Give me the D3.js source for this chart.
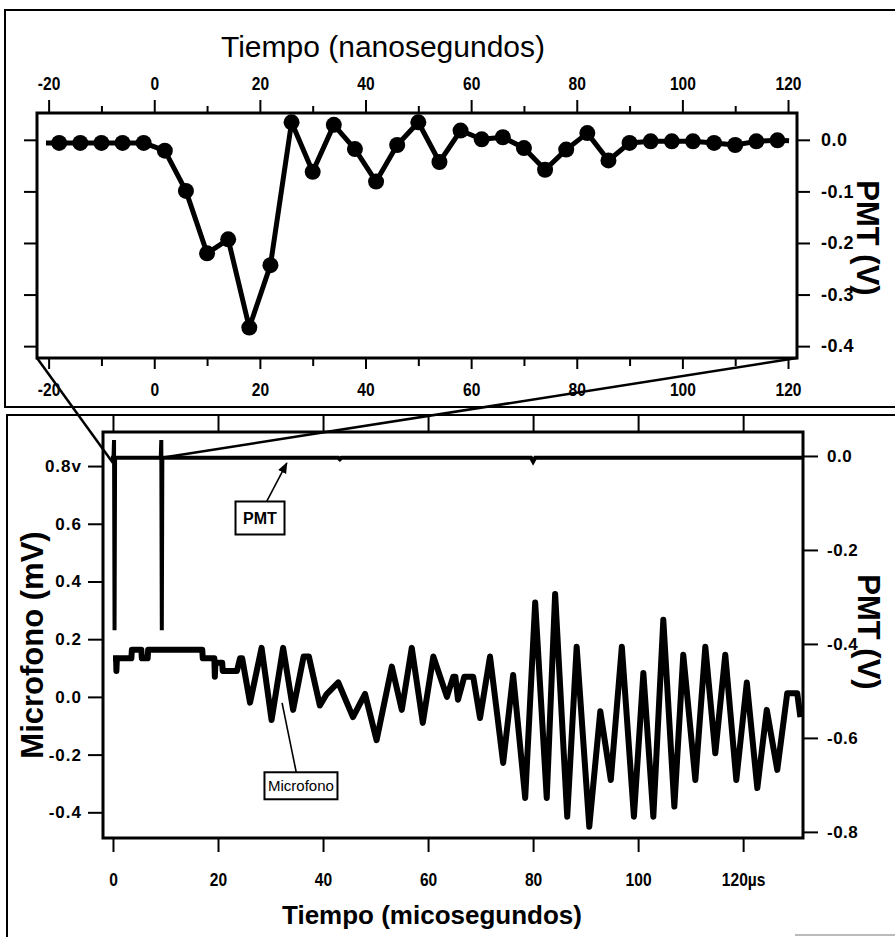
<!DOCTYPE html>
<html>
<head>
<meta charset="utf-8">
<script src="https://cdn.jsdelivr.net/npm/d3@7"></script>
<style>
  body { margin: 0; background: #fff; }
  svg { display: block; }
  .tick text { fill: #000; }
</style>
</head>
<body>
<div id="chart"></div>
<script>
// top panel: PMT pulse, nanoseconds
const nsTime = [-18, -14, -10, -6, -2, 2, 6, 10, 14, 18, 22, 26, 30, 34, 38, 42, 46, 50, 54,
  58, 62, 66, 70, 74, 78, 82, 86, 90, 94, 98, 102, 106, 110, 114, 118];
const nsPMT = [-0.006, -0.006, -0.006, -0.006, -0.006, -0.021, -0.099, -0.220, -0.193, -0.364,
  -0.243, 0.034, -0.062, 0.029, -0.018, -0.081, -0.010, 0.034, -0.043, 0.018, 0.001, 0.005,
  -0.016, -0.058, -0.019, 0.013, -0.040, -0.006, -0.003, -0.003, -0.003, -0.006, -0.010,
  -0.003, -0.001];
// line runs a bit past the first and last marker
const nsEdgeTime = [-20.5, 120.2];
const nsEdgePMT = [-0.006, -0.002];

const nsTicksMajor = [-20, 0, 20, 40, 60, 80, 100, 120];
const nsTicksMinor = [-10, 10, 30, 50, 70, 90, 110];
const nsPMTTicks = [0.0, -0.1, -0.2, -0.3, -0.4];

// bottom panel: microphone + PMT, microseconds
const micTime = [0.0, 0.6, 0.65, 0.75, 3.5, 3.6, 5.4, 5.5, 6.6, 6.7, 17.0, 17.1, 19.3, 19.4,
  19.5, 20.8, 20.9, 23.6, 24.2, 24.6, 26.1, 28.3, 30.2, 32.4, 34.3, 36.3, 37.3, 39.4, 40.7,
  42.9, 45.7, 48.0, 50.2, 53.1, 55.0, 56.9, 59.0, 61.0, 63.6, 64.8, 65.2, 65.7, 66.9, 68.6,
  69.9, 71.8, 74.3, 76.2, 78.5, 80.4, 82.6, 84.2, 86.5, 88.3, 90.7, 92.8, 94.8, 96.9, 99.2,
  101.0, 102.9, 104.8, 106.9, 108.6, 110.9, 112.8, 114.7, 116.6, 118.7, 120.7, 122.7, 124.5,
  126.5, 128.4, 130.3, 130.9];
const micMV = [0.134, 0.134, 0.09, 0.134, 0.134, 0.163, 0.163, 0.134, 0.134, 0.163, 0.163,
  0.134, 0.134, 0.07, 0.118, 0.118, 0.09, 0.09, 0.134, 0.134, -0.02, 0.17, -0.08, 0.17,
  -0.045, 0.14, 0.14, -0.03, 0.01, 0.05, -0.07, 0.01, -0.15, 0.105, -0.045, 0.17, -0.09,
  0.14, 0.0, 0.07, 0.07, -0.01, 0.07, 0.07, -0.073, 0.14, -0.229, 0.076, -0.35, 0.327,
  -0.35, 0.357, -0.415, 0.174, -0.45, -0.05, -0.288, 0.174, -0.415, 0.083, -0.415, 0.267,
  -0.38, 0.146, -0.288, 0.174, -0.195, 0.146, -0.288, 0.05, -0.316, -0.045, -0.253, 0.013,
  0.013, -0.07];

const pmtTime = [-0.4, 0.1, 0.2, 0.3, 0.4, 9.1, 9.2, 9.3, 9.4, 42.9, 43.2, 43.5, 79.6, 80.0,
  80.4, 131.2];
const pmtV = [-0.004, -0.004, 0.034, -0.371, -0.004, -0.004, 0.034, -0.371, -0.004, -0.004,
  -0.007, -0.004, -0.004, -0.012, -0.004, -0.004];

const usTicks = [0, 20, 40, 60, 80, 100, 120];
const micTicks = [0.8, 0.6, 0.4, 0.2, 0.0, -0.2, -0.4];
const pmtTicks = [0.0, -0.2, -0.4, -0.6, -0.8];

const W = 895, H = 937;
const sans = "'Liberation Sans', Arial, sans-serif";

const svg = d3.select("#chart").append("svg")
  .attr("width", W).attr("height", H);
svg.append("rect").attr("width", W).attr("height", H).attr("fill", "#fff");

// outer panel boxes (run off the right edge)
svg.append("rect").attr("x", 5).attr("y", 10).attr("width", 950).attr("height", 397)
  .attr("fill", "none").attr("stroke", "#000").attr("stroke-width", 2);
svg.append("rect").attr("x", 7).attr("y", 415).attr("width", 950).attr("height", 600)
  .attr("fill", "none").attr("stroke", "#000").attr("stroke-width", 2);
svg.append("line").attr("x1", 795).attr("x2", 895).attr("y1", 935).attr("y2", 935)
  .attr("stroke", "#bbb").attr("stroke-width", 2);

// ---------- top panel ----------
const upper = {left: 37, right: 797, top: 113, bottom: 358};
const xNs = d3.scaleLinear().domain([-22.2, 121.7]).range([upper.left, upper.right]);
const yNs = d3.scaleLinear().domain([0.052, -0.423]).range([upper.top, upper.bottom]);

// strip the domain, thicken ticks, bold labels; squeeze = horizontal squash of the glyphs
function styleAxis(g, size, squeeze, spacing) {
  g.select(".domain").remove();
  g.selectAll(".tick line").attr("stroke", "#000").attr("stroke-width", 2);
  const t = g.selectAll(".tick text").style("font-family", sans)
    .style("font-size", size + "px").style("font-weight", "bold");
  if (squeeze) t.attr("transform", `scale(${squeeze},1)`);
  if (spacing) t.style("letter-spacing", spacing + "px");
}

const gTopAxis = svg.append("g").attr("transform", `translate(0,${upper.top})`)
  .call(d3.axisTop(xNs).tickValues(nsTicksMajor).tickSize(13).tickPadding(10)
    .tickFormat(d => String(d)));
styleAxis(gTopAxis, 19, 0.82);
const gTopMinor = svg.append("g").attr("transform", `translate(0,${upper.top})`)
  .call(d3.axisTop(xNs).tickValues(nsTicksMinor).tickSize(7).tickFormat(""));
styleAxis(gTopMinor, 19);

const gBotAxis = svg.append("g").attr("transform", `translate(0,${upper.bottom})`)
  .call(d3.axisBottom(xNs).tickValues(nsTicksMajor).tickSize(11).tickPadding(14)
    .tickFormat(d => String(d)));
styleAxis(gBotAxis, 19, 0.82);
const gBotMinor = svg.append("g").attr("transform", `translate(0,${upper.bottom})`)
  .call(d3.axisBottom(xNs).tickValues(nsTicksMinor).tickSize(8).tickFormat(""));
styleAxis(gBotMinor, 19);

const gNsRight = svg.append("g").attr("transform", `translate(${upper.right},0)`)
  .call(d3.axisRight(yNs).tickValues(nsPMTTicks).tickSize(13).tickPadding(11)
    .tickFormat(d => d.toFixed(1)));
styleAxis(gNsRight, 18, 0, 0.5);
const gNsLeft = svg.append("g").attr("transform", `translate(${upper.left},0)`)
  .call(d3.axisLeft(yNs).tickValues(nsPMTTicks).tickSize(13).tickFormat(""));
styleAxis(gNsLeft, 18);

svg.append("rect").attr("x", upper.left).attr("y", upper.top)
  .attr("width", upper.right - upper.left).attr("height", upper.bottom - upper.top)
  .attr("fill", "none").attr("stroke", "#000").attr("stroke-width", 3);

svg.append("text").attr("x", 383).attr("y", 57).attr("text-anchor", "middle")
  .style("font-family", sans).style("font-size", "30px").text("Tiempo (nanosegundos)");
svg.append("text").attr("transform", "translate(857,238) rotate(90)")
  .attr("text-anchor", "middle").style("font-family", sans).style("font-size", "31px")
  .style("font-weight", "bold").text("PMT (V)");

const nsPts = nsTime.map((t, i) => [t, nsPMT[i]]);
const nsLinePts = [[nsEdgeTime[0], nsEdgePMT[0]]].concat(nsPts, [[nsEdgeTime[1], nsEdgePMT[1]]]);
svg.append("path").datum(nsLinePts)
  .attr("d", d3.line().x(d => xNs(d[0])).y(d => yNs(d[1])))
  .attr("fill", "none").attr("stroke", "#000").attr("stroke-width", 5)
  .attr("stroke-linejoin", "round");
svg.append("g").selectAll("circle").data(nsPts).enter().append("circle")
  .attr("cx", d => xNs(d[0])).attr("cy", d => yNs(d[1])).attr("r", 8).attr("fill", "#000");

// ---------- bottom panel ----------
const lower = {left: 103, right: 803, top: 432, bottom: 838};
const xUs = d3.scaleLinear().domain([-1.9, 131.4]).range([lower.left, lower.right]);
const yMic = d3.scaleLinear().domain([0.918, -0.489]).range([lower.top, lower.bottom]);
const yPmt = d3.scaleLinear().domain([0.051, -0.813]).range([lower.top, lower.bottom]);

const gUs = svg.append("g").attr("transform", `translate(0,${lower.bottom})`)
  .call(d3.axisBottom(xUs).tickValues(usTicks).tickSize(14).tickPadding(21)
    .tickFormat(d => d === 120 ? "120µs" : String(d)));
styleAxis(gUs, 19, 0.82);
const gUsTop = svg.append("g").attr("transform", `translate(0,${lower.top})`)
  .call(d3.axisTop(xUs).tickValues(usTicks).tickSize(17).tickFormat(""));
styleAxis(gUsTop, 19);

const gMic = svg.append("g").attr("transform", `translate(${lower.left},0)`)
  .call(d3.axisLeft(yMic).tickValues(micTicks).tickSize(15).tickPadding(6)
    .tickFormat(d => d === 0.8 ? "0.8v" : d.toFixed(1)));
styleAxis(gMic, 17, 0, 1);

const gPmt = svg.append("g").attr("transform", `translate(${lower.right},0)`)
  .call(d3.axisRight(yPmt).tickValues(pmtTicks).tickSize(15).tickPadding(9)
    .tickFormat(d => d.toFixed(1)));
styleAxis(gPmt, 17, 0, 0.5);

svg.append("rect").attr("x", lower.left).attr("y", lower.top)
  .attr("width", lower.right - lower.left).attr("height", lower.bottom - lower.top)
  .attr("fill", "none").attr("stroke", "#000").attr("stroke-width", 3);

svg.append("text").attr("transform", "translate(43,645) rotate(-90)")
  .attr("text-anchor", "middle").style("font-family", sans).style("font-size", "31px")
  .style("font-weight", "bold").text("Microfono (mV)");
svg.append("text").attr("transform", "translate(858,632) rotate(90)")
  .attr("text-anchor", "middle").style("font-family", sans).style("font-size", "31px")
  .style("font-weight", "bold").text("PMT (V)");
svg.append("text").attr("x", 432).attr("y", 924).attr("text-anchor", "middle")
  .style("font-family", sans).style("font-size", "26px").style("font-weight", "bold")
  .text("Tiempo (micosegundos)");

svg.append("path").datum(pmtTime.map((t, i) => [t, pmtV[i]]))
  .attr("d", d3.line().x(d => xUs(d[0])).y(d => yPmt(d[1])))
  .attr("fill", "none").attr("stroke", "#000").attr("stroke-width", 4);

svg.append("path").datum(micTime.map((t, i) => [t, micMV[i]]))
  .attr("d", d3.line().x(d => xUs(d[0])).y(d => yMic(d[1])))
  .attr("fill", "none").attr("stroke", "#000").attr("stroke-width", 6)
  .attr("stroke-linejoin", "round");

// labels with pointers
svg.append("defs").append("marker").attr("id", "head")
  .attr("viewBox", "0 0 10 10").attr("refX", 9).attr("refY", 5)
  .attr("markerWidth", 7).attr("markerHeight", 7).attr("orient", "auto")
  .append("path").attr("d", "M0,1L10,5L0,9Z").attr("fill", "#000");

function callout(label, cx, cy, w, h, tipX, tipY, bold, size, arrow) {
  const x0 = cx - w / 2, y0 = cy - h / 2;
  svg.append("line").attr("x1", cx + (tipX - cx) * 0.25).attr("y1", y0)
    .attr("x2", tipX).attr("y2", tipY).attr("stroke", "#000").attr("stroke-width", 1.6)
    .attr("marker-end", arrow ? "url(#head)" : null);
  svg.append("rect").attr("x", x0).attr("y", y0).attr("width", w).attr("height", h)
    .attr("fill", "#fff").attr("stroke", "#000").attr("stroke-width", 2);
  svg.append("text").attr("x", cx).attr("y", cy + size * 0.36).attr("text-anchor", "middle")
    .style("font-family", sans).style("font-size", size + "px")
    .style("font-weight", bold ? "bold" : "normal").text(label);
}
callout("PMT", xUs(28), yPmt(-0.132), 49, 33, xUs(33.1), yPmt(-0.015), true, 16, true);
callout("Microfono", xUs(35.8), yMic(-0.308), 73, 27, xUs(32.2), yMic(-0.021), false, 15, false);

// zoom lines joining the two panels
const zoomLines = [
  [[xNs.range()[0], yNs.range()[1]], [xUs(0), yPmt(-0.015)]],
  [[xNs.range()[1], yNs.range()[1]], [xUs(9.3), yPmt(-0.004)]]
];
svg.append("g").selectAll("line").data(zoomLines).enter().append("line")
  .attr("x1", d => d[0][0]).attr("y1", d => d[0][1])
  .attr("x2", d => d[1][0]).attr("y2", d => d[1][1])
  .attr("stroke", "#000").attr("stroke-width", 2.5);
</script>
</body>
</html>
